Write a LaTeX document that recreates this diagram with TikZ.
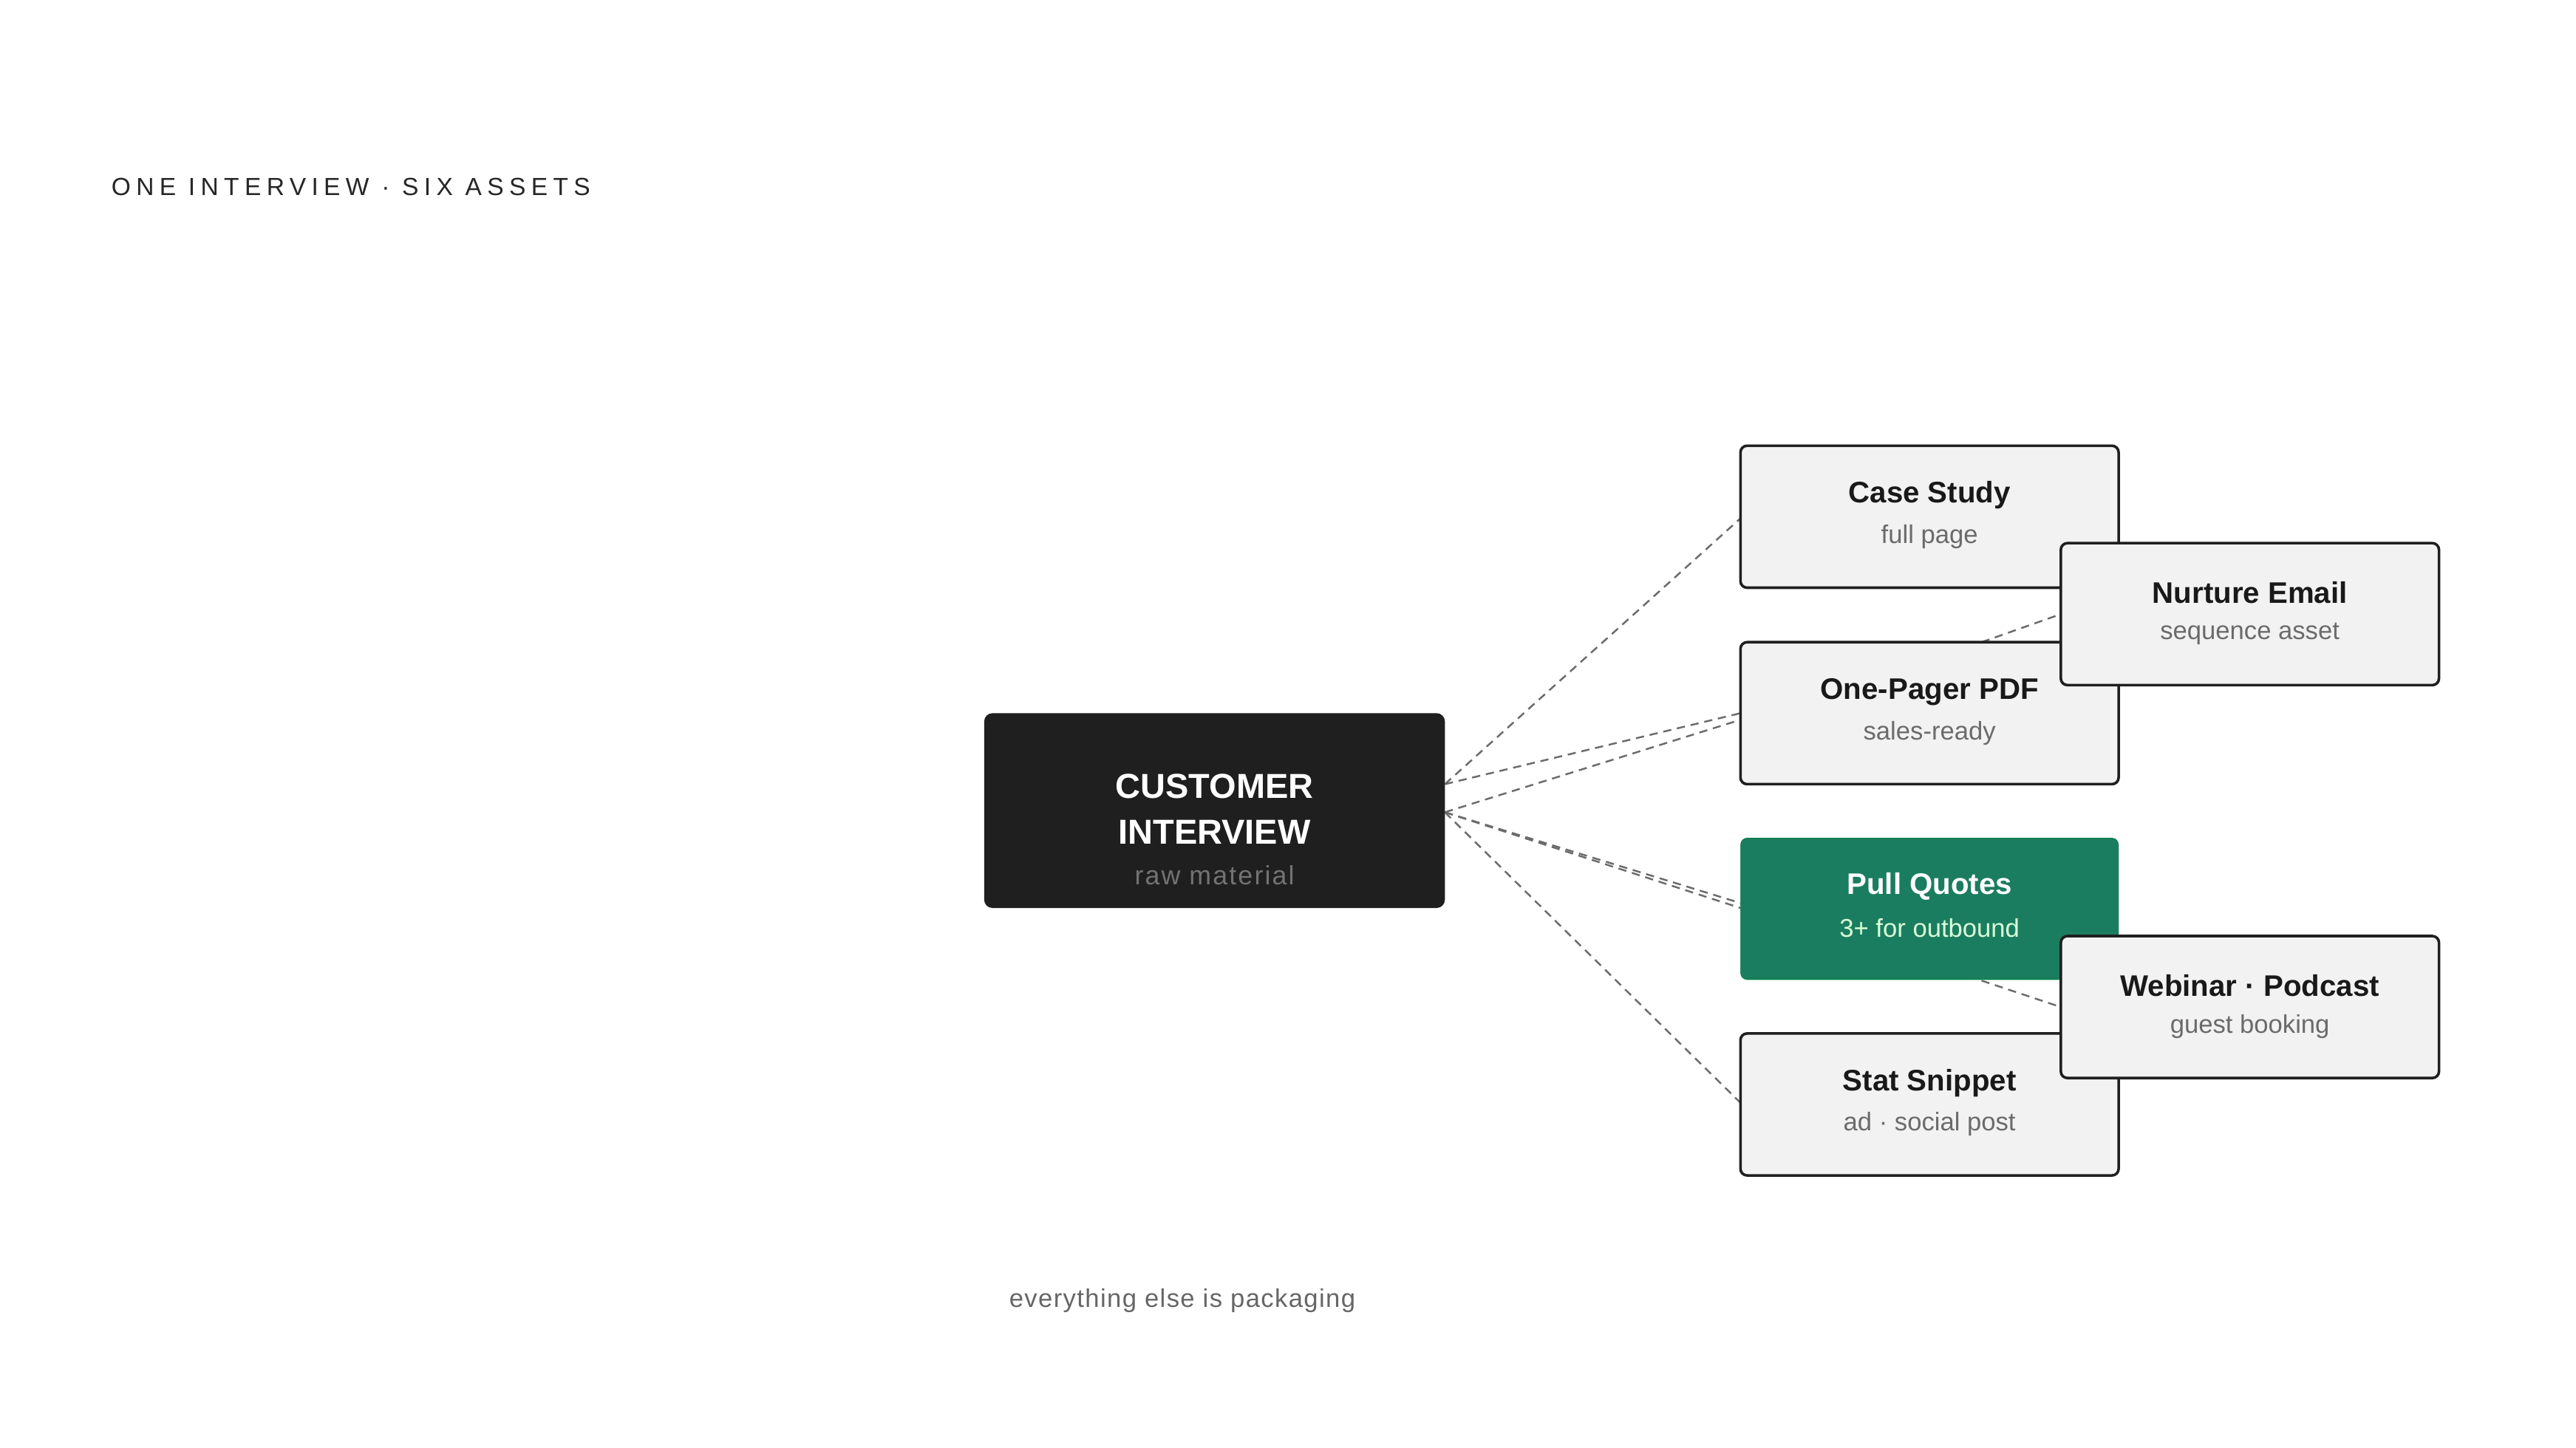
\documentclass[tikz,border=0pt]{standalone}
\usepackage{fontspec}
\setmainfont{Liberation Sans}
\begin{document}
\begin{tikzpicture}[x=1pt,y=-1pt,
  box/.style={draw=black!88,line width=1.6pt,fill=black!5,rounded corners=4pt,minimum width=229pt,minimum height=86pt,inner sep=0pt},
  ttl/.style={font=\fontsize{18}{20}\selectfont\bfseries,text=black!90},
  sub/.style={font=\fontsize{15.5}{18}\selectfont,text=black!58},
  con/.style={draw=black!58,line width=1.1pt,dash pattern=on 5pt off 3.5pt}]
\useasboundingbox (0,0) rectangle (1560,877);
\node[anchor=west,font=\fontsize{15}{18}\selectfont\addfontfeature{LetterSpace=22},text=black!85] (t) at (64,113) {ONE INTERVIEW · SIX ASSETS};
\node[font=\fontsize{15.5}{18}\selectfont\addfontfeature{LetterSpace=4},text=black!60] (f) at (716,788) {everything else is packaging};
\coordinate (a) at (875,475);
\coordinate (b) at (875,492);
\coordinate (n1) at (1200,389);
\coordinate (n2) at (1200,594);
\node[draw=none,fill=none,minimum width=279pt,minimum height=118pt] (cbox) at (735.5,491) {};
\draw[con] (a) -- (1054,314);
\draw[con] (a) -- (1054,432);
\draw[con] (b) -- (1054,436);
\draw[con] (b) -- (1054,547);
\draw[con] (b) -- (1054,550);
\draw[con] (b) -- (1054,668);
\draw[con] (n1) -- (1248,372);
\draw[con] (n2) -- (1248,610);
\node[fill=black!88,rounded corners=5pt,minimum width=279pt,minimum height=118pt] (c) at (735.5,491) {};
\node[font=\fontsize{21}{28}\selectfont\bfseries,text=white,align=center] (ct) at (735.5,490) {CUSTOMER\\INTERVIEW};
\node[font=\fontsize{16}{18}\selectfont\addfontfeature{LetterSpace=6},text=black!55] (cs) at (735.5,530) {raw material};
\foreach \n/\x/\y/\T/\S in {cs1/1168.5/313/Case Study/full page, op/1168.5/432/One-Pager PDF/sales-ready, st/1168.5/669/Stat Snippet/ad · social post}{
  \node[box] (\n) at (\x,\y) {};
  \node[ttl] at (\x,\y-13) {\T};
  \node[sub] at (\x,\y+12) {\S};
}
\node[box,draw=none,fill=teal!70!black!90,fill=green!35!teal!75!black] (pq) at (1168.5,550.5) {};
\fill[fill={rgb,255:red,27;green,125;blue,95}, rounded corners=4pt] (1054,508) rectangle (1283,593);
\node[ttl,text=white] at (1168.5,537) {Pull Quotes};
\node[sub,text=white!85!green] at (1168.5,562) {3+ for outbound};
\foreach \n/\x/\y/\T/\S in {ne/1362.5/372/Nurture Email/sequence asset, wb/1362.5/610/Webinar · Podcast/guest booking}{
  \node[box] (\n) at (\x,\y) {};
  \node[ttl] at (\x,\y-13) {\T};
  \node[sub] at (\x,\y+12) {\S};
}
\end{tikzpicture}
\end{document}
